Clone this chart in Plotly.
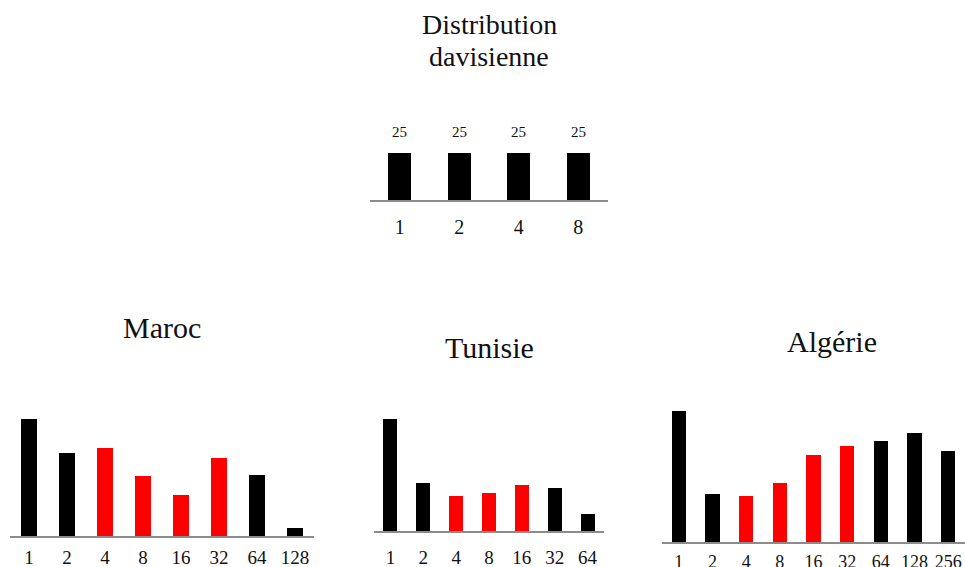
import plotly.graph_objects as go

W, H = 965, 567

# ---------------- data ----------------
dist_cats = ["1", "2", "4", "8"]
dist_vals = [25, 25, 25, 25]

maroc_cats = ["1", "2", "4", "8", "16", "32", "64", "128"]
maroc_vals = [21.8, 15.5, 16.4, 11.2, 7.6, 14.6, 11.4, 1.5]

tunisie_cats = ["1", "2", "4", "8", "16", "32", "64"]
tunisie_vals = [33.0, 14.2, 10.3, 11.2, 13.6, 12.7, 5.0]

algerie_cats = ["1", "2", "4", "8", "16", "32", "64", "128", "256"]
algerie_vals = [17.1, 6.3, 6.0, 7.7, 11.3, 12.5, 13.1, 14.2, 11.8]

# ---------------- styles ----------------
BLACK = "#000000"
RED = "#ff0000"
AXIS = "#8c8c8c"
FONT = "Liberation Serif"
TXT = "#111111"

dist_colors = [BLACK] * 4
maroc_colors = [BLACK, BLACK, RED, RED, RED, RED, BLACK, BLACK]
tunisie_colors = [BLACK, BLACK, RED, RED, RED, BLACK, BLACK]
algerie_colors = [BLACK, BLACK, RED, RED, RED, RED, BLACK, BLACK, BLACK]


def fx(px):
    return px / W


def fy(py):
    return 1 - py / H


panels = [
    # cats, vals, colors, x0, x1, ybot, ytop, ymax, barwidth, tickfont, standoff
    (dist_cats, dist_vals, dist_colors, 370, 608, 200, 100, 25 * 100 / 47, 0.39, 20, 8),
    (maroc_cats, maroc_vals, maroc_colors, 10, 314, 536, 406, 130 / 5.36, 0.42, 19, 3),
    (tunisie_cats, tunisie_vals, tunisie_colors, 374, 604, 531, 401, 130 / 3.39, 0.43, 19, 8),
    (algerie_cats, algerie_vals, algerie_colors, 662, 965, 542, 402, 140 / 7.68, 0.42, 18, 2),
]

fig = go.Figure()
layout = dict(
    width=W, height=H,
    margin=dict(l=0, r=0, t=0, b=0),
    paper_bgcolor="white", plot_bgcolor="white",
    showlegend=False,
    font=dict(family=FONT, color=TXT),
    bargap=0,
)

for i, (cats, vals, cols, x0, x1, yb, yt, ymax, bw, tf, so) in enumerate(panels):
    n = i + 1
    xa = "x" if n == 1 else f"x{n}"
    ya = "y" if n == 1 else f"y{n}"
    fig.add_trace(go.Bar(
        x=cats, y=vals, marker=dict(color=cols, line=dict(width=0)),
        width=bw, xaxis=xa, yaxis=ya, hoverinfo="skip",
    ))
    xkey = "xaxis" if n == 1 else f"xaxis{n}"
    ykey = "yaxis" if n == 1 else f"yaxis{n}"
    layout[xkey] = dict(
        domain=[fx(x0), min(1.0, fx(x1))],
        anchor=ya, type="category", range=[-0.5, len(cats) - 0.5],
        showline=True, linecolor=AXIS, linewidth=2,
        showgrid=False, zeroline=False, ticks="",
        tickfont=dict(family=FONT, size=tf, color=TXT),
        ticklabelstandoff=so, automargin=False, fixedrange=True,
    )
    layout[ykey] = dict(
        domain=[fy(yb), fy(yt)], anchor=xa, range=[0, ymax],
        visible=False, showgrid=False, zeroline=False, fixedrange=True,
    )

annotations = []
# value labels on the top chart (x given as category index)
for idx, v in enumerate(dist_vals):
    annotations.append(dict(
        x=idx, y=v, xref="x", yref="y", text=str(v), showarrow=False,
        yshift=21, yanchor="middle", font=dict(family=FONT, size=15, color=TXT),
    ))

titles = [
    ("Distribution", 489, 25, 28),
    ("davisienne", 489, 57, 28),
    ("Maroc", 162, 327, 30),
    ("Tunisie", 489, 347, 30),
    ("Algérie", 832, 341, 30),
]
for t, px, py, sz in titles:
    annotations.append(dict(
        x=fx(px), y=fy(py), xref="paper", yref="paper", text=t, showarrow=False,
        xanchor="center", yanchor="middle", font=dict(family=FONT, size=sz, color=TXT),
    ))

layout["annotations"] = annotations
fig.update_layout(**layout)
fig.write_html(
    "out.html",
    config={"displayModeBar": False},
    post_script="document.body.style.margin='0';document.body.style.overflow='hidden';",
)
